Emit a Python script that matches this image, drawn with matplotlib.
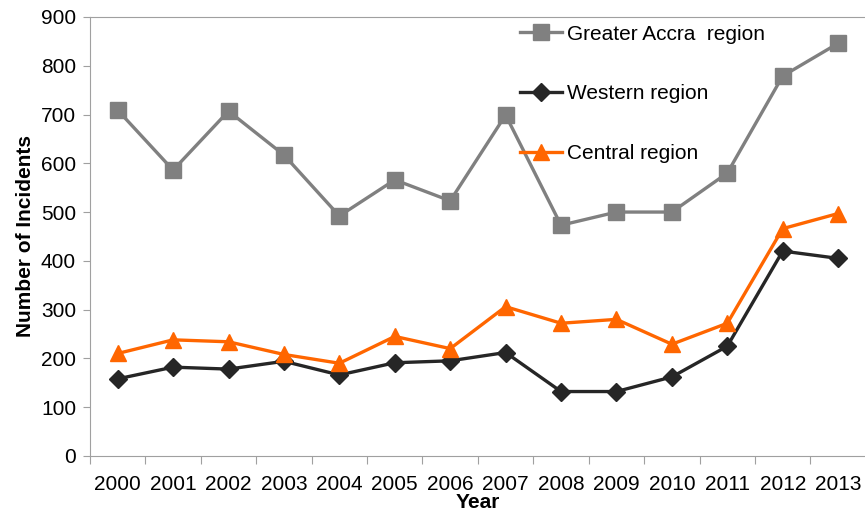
import matplotlib.pyplot as plt
import numpy as np

plt.rcParams['font.family'] = ['Liberation Sans', 'DejaVu Sans']

years = [2000, 2001, 2002, 2003, 2004, 2005, 2006, 2007, 2008, 2009, 2010, 2011, 2012, 2013]
greater_accra = [709, 586, 707, 617, 492, 566, 523, 699, 473, 500, 500, 580, 779, 846]
western = [158, 182, 178, 194, 166, 191, 195, 212, 132, 132, 162, 225, 420, 405]
central = [210, 238, 234, 208, 190, 245, 220, 306, 272, 280, 229, 272, 466, 497]

fig = plt.figure(figsize=(8.65, 5.14), dpi=100)
ax = fig.add_axes([0.104, 0.113, 0.897, 0.854])

x = np.arange(len(years))
ax.plot(x, greater_accra, color='#808080', lw=2.4, marker='s', ms=11.5,
        label='Greater Accra  region')
ax.plot(x, western, color='#262626', lw=2.4, marker='D', ms=9,
        label='Western region')
ax.plot(x, central, color='#FF6600', lw=2.4, marker='^', ms=11,
        label='Central region')

ax.set_xlim(-0.5, len(years) - 0.5)
ax.set_ylim(0, 900)
ax.set_yticks(range(0, 901, 100))
ax.set_xticks(np.arange(-0.5, len(years), 1.0))
ax.set_xticklabels([])
ax.set_xticks(x, minor=True)
ax.set_xticklabels([str(y) for y in years], minor=True)
ax.tick_params(axis='x', which='major', length=6, color='#A0A0A0')
ax.tick_params(axis='x', which='minor', length=0, pad=14, labelsize=15)
ax.tick_params(axis='y', length=5, color='#A0A0A0', labelsize=15, pad=5)

for s in ['left', 'bottom', 'top']:
    ax.spines[s].set_color('#A0A0A0')
ax.spines['right'].set_visible(False)

ax.set_ylabel('Number of Incidents', fontsize=15, fontweight='bold', labelpad=4)
ax.set_xlabel('Year', fontsize=15, fontweight='bold', labelpad=-1)

ax.legend(loc='upper left', bbox_to_anchor=(0.53, 1.025), frameon=False,
          fontsize=15, handlelength=2.0, labelspacing=1.95, handletextpad=0.25)

fig.savefig('out.png', dpi=100)
